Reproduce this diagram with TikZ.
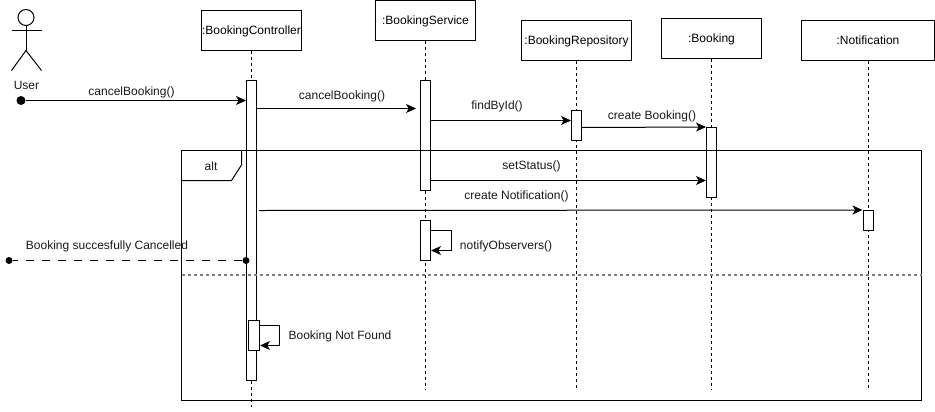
\documentclass[tikz,border=0pt]{standalone}
\usepackage{fontspec}
\setmainfont{Liberation Sans}
\usetikzlibrary{arrows.meta}
\tikzset{
  lw/.style={line width=0.75pt,black},
  objbox/.style={draw,lw,fill=white,minimum height=30pt,inner sep=0pt,font=\fontsize{9}{11}\selectfont,text height=6.5pt,text depth=0.5pt},
  bar/.style={draw,lw,fill=white,minimum width=7.5pt,inner sep=0pt},
  lifeline/.style={lw,dash pattern=on 2.25pt off 2.25pt},
  msg/.style={lw,-{Stealth[length=7.5pt,width=6.75pt,inset=2pt]}},
  lbl/.style={font=\fontsize{9}{11}\selectfont,inner sep=0pt,text=black!90,yshift=-0.75pt},
  dot/.style={circle,fill=black,draw=none,inner sep=0pt},
  framebox/.style={lw},
  divider/.style={line width=1.1pt,black!50,dash pattern=on 2.25pt off 2.25pt},
  returnline/.style={lw,dash pattern=on 6pt off 6pt}
}
\begin{document}
\begin{tikzpicture}[x=0.75pt,y=-0.75pt]
\useasboundingbox (0,0) rectangle (935,411);
% objects
\node[objbox,minimum width=75pt] (ctl) at (251.5,30.5) {:BookingController};
\node[objbox,minimum width=75pt] (svc) at (425.5,20.5) {:BookingService};
\node[objbox,minimum width=82.5pt] (rep) at (576.5,40.5) {:BookingRepository};
\node[objbox,minimum width=75pt] (bkg) at (711.5,38) {:Booking};
\node[objbox,minimum width=99.75pt] (ntf) at (868,40.5) {:Notification};
% lifeline ends
\coordinate (ctlend) at (251.5,407);
\coordinate (svcend) at (425.5,390);
\coordinate (repend) at (576.5,390);
\coordinate (bkgend) at (711.5,390);
\coordinate (ntfend) at (868,388);
\draw[lifeline] (ctl.south) -- (ctlend);
\draw[lifeline] (svc.south) -- (svcend);
\draw[lifeline] (rep.south) -- (repend);
\draw[lifeline] (bkg.south) -- (bkgend);
\draw[lifeline] (ntf.south) -- (ntfend);
% activation bars
\node[bar,minimum height=225pt] (ctlA) at (251.5,230.5) {};
\node[bar,minimum height=82.5pt] (svcA) at (425.5,135.5) {};
\node[bar,minimum height=30pt] (svcB) at (425.5,240.5) {};
\node[bar,minimum height=22.5pt] (repA) at (576.5,125.5) {};
\node[bar,minimum height=52.5pt] (bkgA) at (711.5,162.5) {};
\node[bar,minimum height=15pt] (ntfA) at (868,220.5) {};
\node[bar,minimum width=8.25pt,minimum height=22.5pt] (ctlB) at (254,335.5) {};
% alt frame
\node[draw=none,inner sep=0pt,minimum width=555pt,minimum height=187.5pt] (alt) at (551.5,275.5) {};
\draw[framebox] (alt.north west) rectangle (alt.south east);
\coordinate (tabA) at (181.5,180.5);
\coordinate (tabB) at (231.5,180.5);
\coordinate (tabC) at (241.5,165);
\coordinate (tabD) at (241.5,150.5);
\draw[framebox] (tabA) -- (tabB) -- (tabC) -- (tabD);
\node[lbl] (altl) at (211,165) {alt};
\coordinate (divA) at (181.5,275);
\coordinate (divB) at (921.5,275);
\draw[divider] (divA) -- (divB);
% actor
\node[draw,lw,circle,minimum size=12pt,inner sep=0pt] (head) at (26,17.5) {};
\coordinate (hip) at (26,50.5);
\coordinate (armL) at (11.5,30.5);
\coordinate (armR) at (41.5,30.5);
\coordinate (legL) at (11.5,70.5);
\coordinate (legR) at (41.5,70.5);
\draw[lw] (head.south) -- (hip);
\draw[lw] (armL) -- (armR);
\draw[lw] (legL) -- (hip) -- (legR);
\node[lbl] (user) at (26.5,84) {User};
% messages
\node[dot,minimum size=6.75pt] (ustart) at (21,100.5) {};
\draw[msg] (ustart) -- (ctlA.west |- ustart);
\node[lbl] at (131.5,91) {cancelBooking()};
\coordinate (m2) at (ctlA.east |- 0,108.5);
\coordinate (m2e) at (416,108.5);
\draw[msg] (m2) -- (m2e);
\node[lbl] at (342,95) {cancelBooking()};
\coordinate (m3) at (svcA.east |- 0,120.5);
\draw[msg] (m3) -- (repA.west |- m3);
\node[lbl] at (497,105) {findById()};
\coordinate (m4) at (repA.east |- 0,127.5);
\draw[msg] (m4) -- (bkgA.north west);
\node[lbl] at (652,115) {create Booking()};
\coordinate (m5) at (svcA.east |- 0,180.5);
\draw[msg] (m5) -- (bkgA.west |- m5);
\node[lbl] at (531.5,165) {setStatus()};
\coordinate (m6) at (259,210.5);
\draw[msg] (m6) -- (ntfA.north west);
\node[lbl] at (516.5,195) {create Notification()};
% self call notifyObservers
\coordinate (s1a) at (svcB.east |- 0,230.5);
\coordinate (s1b) at (451,230.5);
\coordinate (s1c) at (451,250.5);
\draw[msg] (s1a) -- (s1b) -- (s1c) -- (svcB.east |- s1c);
\node[lbl] at (506,245) {notifyObservers()};
% return
\node[dot,minimum size=5.25pt] (rstart) at (ctlA.west |- 0,260.5) {};
\node[dot,minimum size=5.25pt] (rend) at (9,260.5) {};
\draw[returnline] (rstart) -- (rend);
\node[lbl] at (107,245) {Booking succesfully Cancelled};
% self call not found
\coordinate (s2a) at (ctlB.east |- 0,325.5);
\coordinate (s2b) at (279,325.5);
\coordinate (s2c) at (279,345.5);
\draw[msg] (s2a) -- (s2b) -- (s2c) -- (ctlB.east |- s2c);
\node[lbl] at (340,335) {Booking Not Found};
\end{tikzpicture}
\end{document}
